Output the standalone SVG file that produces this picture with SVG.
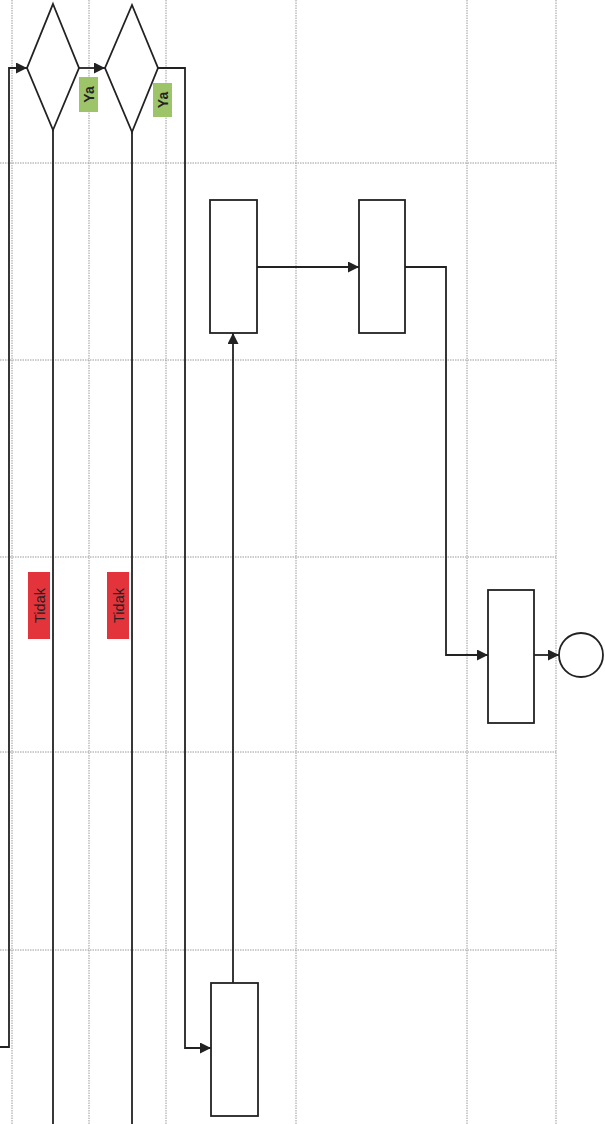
<svg xmlns="http://www.w3.org/2000/svg" width="605" height="1124" viewBox="0 0 605 1124">
<style>
.grid{stroke:#9a9a9a;stroke-width:1;stroke-dasharray:1.5 1;fill:none}
.shape{fill:#fff;stroke:#222;stroke-width:1.8}
.conn{fill:none;stroke:#222;stroke-width:1.8}
.ya{fill:#9ec46a}
.tidak{fill:#e3343c}
.lbl{font-family:"Liberation Sans",Arial,sans-serif;fill:#222}
</style>
<defs>
<marker id="arrL" viewBox="0 0 10 10" refX="10" refY="5" markerWidth="11" markerHeight="11" orient="auto" markerUnits="userSpaceOnUse">
<path d="M0,0 L10,5 L0,10 z" fill="#222"/>
</marker>
</defs>
<rect width="605" height="1124" fill="#fff"/>
<g id="grid">
<line class="grid" x1="12" y1="0" x2="12" y2="1124"/>
<line class="grid" x1="89" y1="0" x2="89" y2="1124"/>
<line class="grid" x1="166" y1="0" x2="166" y2="1124"/>
<line class="grid" x1="296" y1="0" x2="296" y2="1124"/>
<line class="grid" x1="467" y1="0" x2="467" y2="1124"/>
<line class="grid" x1="556" y1="0" x2="556" y2="1124"/>
<line class="grid" x1="0" y1="163" x2="556" y2="163"/>
<line class="grid" x1="0" y1="360" x2="556" y2="360"/>
<line class="grid" x1="0" y1="557" x2="556" y2="557"/>
<line class="grid" x1="0" y1="752" x2="556" y2="752"/>
<line class="grid" x1="0" y1="950" x2="556" y2="950"/>
</g>
<g id="connectors">
<polyline class="conn" points="0,1047 9,1047 9,68 27,68" marker-end="url(#arrL)"/>
<line class="conn" x1="53" y1="130" x2="53" y2="1124"/>
<line class="conn" x1="79" y1="68" x2="105" y2="68" marker-end="url(#arrL)"/>
<line class="conn" x1="132" y1="132" x2="132" y2="1124"/>
<polyline class="conn" points="158,68 185,68 185,1048 211,1048" marker-end="url(#arrL)"/>
<line class="conn" x1="233" y1="983" x2="233" y2="333" marker-end="url(#arrL)"/>
<line class="conn" x1="257" y1="267" x2="359" y2="267" marker-end="url(#arrL)"/>
<polyline class="conn" points="405,267 446,267 446,655 488,655" marker-end="url(#arrL)"/>
<line class="conn" x1="534" y1="655" x2="559" y2="655" marker-end="url(#arrL)"/>
</g>
<g id="decision1"><polygon class="shape" points="53,4 79,68 53,130 27,68"/></g>
<g id="decision2"><polygon class="shape" points="132,5 158,68 132,132 105,68"/></g>
<g id="process1"><rect class="shape" x="210" y="200" width="47" height="133"/></g>
<g id="process2"><rect class="shape" x="359" y="200" width="46" height="133"/></g>
<g id="process3"><rect class="shape" x="488" y="590" width="46" height="133"/></g>
<g id="process4"><rect class="shape" x="211" y="983" width="47" height="133"/></g>
<g id="end"><circle class="shape" cx="581" cy="655" r="22"/></g>
<g id="label-ya1"><rect class="ya" x="79" y="77" width="19" height="35"/><text class="lbl" font-size="14" font-weight="bold" transform="translate(93.5,94.5) rotate(-90)" text-anchor="middle">Ya</text></g>
<g id="label-ya2"><rect class="ya" x="153" y="83" width="19" height="34"/><text class="lbl" font-size="14" font-weight="bold" transform="translate(167.5,100) rotate(-90)" text-anchor="middle">Ya</text></g>
<g id="label-tidak1"><rect class="tidak" x="28" y="572" width="22" height="67"/><text class="lbl" font-size="14.5" transform="translate(44.5,605.5) rotate(-90)" text-anchor="middle">Tidak</text></g>
<g id="label-tidak2"><rect class="tidak" x="107" y="572" width="22" height="67"/><text class="lbl" font-size="14.5" transform="translate(123.5,605.5) rotate(-90)" text-anchor="middle">Tidak</text></g>
</svg>
